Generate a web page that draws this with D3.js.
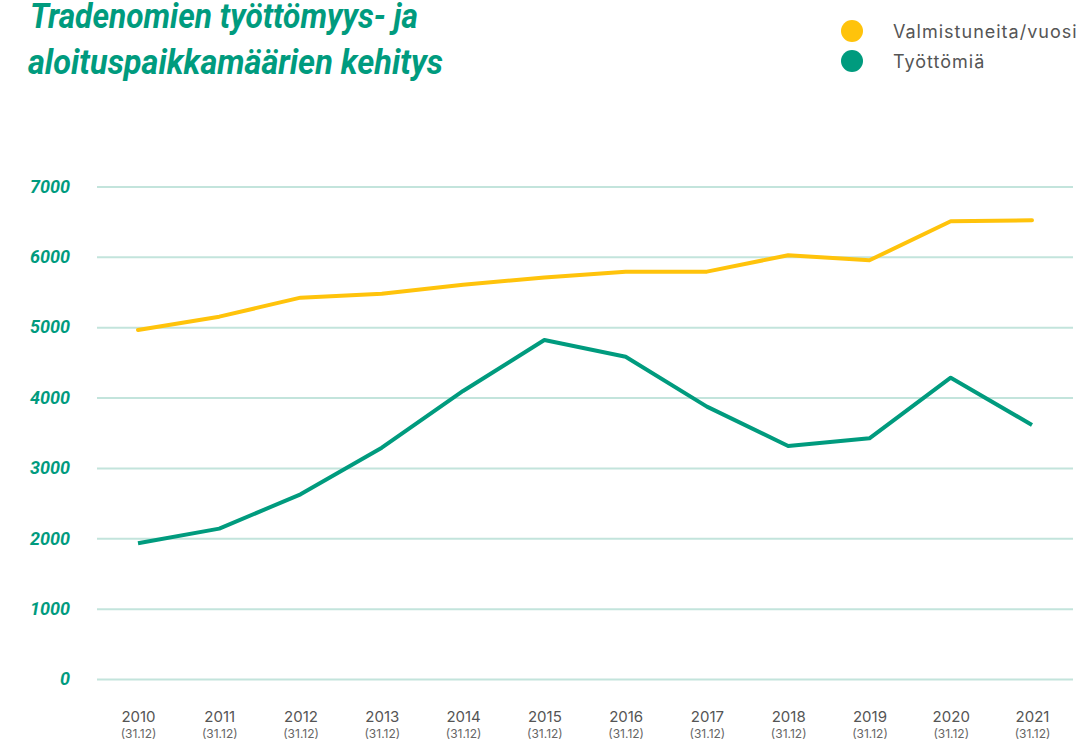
<!DOCTYPE html>
<html>
<head>
<meta charset="utf-8">
<script src="https://cdn.jsdelivr.net/npm/d3@7"></script>
<style>
  html, body { margin: 0; padding: 0; background: #fff; }
  svg { display: block; }
</style>
</head>
<body>
<script>
const years = ["2010","2011","2012","2013","2014","2015","2016","2017","2018","2019","2020","2021"];
const subLabel = "(31.12)";
const valmistuneita = [4960, 5150, 5420, 5477, 5605, 5705, 5790, 5790, 6023, 5951, 6506, 6520];
const tyottomia = [1929, 2137, 2625, 3288, 4094, 4819, 4581, 3871, 3312, 3421, 4283, 3610];
const yTicks = [0, 1000, 2000, 3000, 4000, 5000, 6000, 7000];
const seriesNames = ["Valmistuneita/vuosi", "Työttömiä"];
const titleLines = ["Tradenomien työttömyys- ja", "aloituspaikkamäärien kehitys"];

const W = 1081, H = 743;
const YELLOW = "#FFC30B", GREEN = "#009B7E", GRID = "#C3E4DC", TEXT = "#555555";

const svg = d3.select("body").append("svg").attr("width", W).attr("height", H);

const x = d3.scalePoint().domain(years).range([138, 1032]);
const y = d3.scaleLinear().domain([0, 7000]).range([679, 186.5]);

// Title
const title = svg.append("g");
title.append("text").attr("x", 30).attr("y", 28)
  .attr("textLength", 388).attr("lengthAdjust", "spacingAndGlyphs")
  .style("font-family", "Roboto").style("font-weight", 700).style("font-style", "italic")
  .style("font-size", "35px").attr("fill", GREEN).text(titleLines[0]);
title.append("text").attr("x", 28).attr("y", 74)
  .attr("textLength", 415).attr("lengthAdjust", "spacingAndGlyphs")
  .style("font-family", "Roboto").style("font-weight", 700).style("font-style", "italic")
  .style("font-size", "35px").attr("fill", GREEN).text(titleLines[1]);

// Legend
const legend = svg.append("g");
[YELLOW, GREEN].forEach((c, i) => {
  legend.append("circle").attr("cx", 852).attr("cy", 31 + i * 30).attr("r", 11).attr("fill", c);
  legend.append("text").attr("x", 893).attr("y", 38 + i * 30)
    .style("font-family", "Inter").style("font-size", "18px").style("letter-spacing", "1px")
    .attr("fill", TEXT)
    .text(seriesNames[i]);
});

// Y axis (gridlines + labels)
const yAxis = d3.axisLeft(y).tickValues(yTicks).tickSize(-(1073 - 97)).tickPadding(27).tickFormat(d3.format("d"));
const gy = svg.append("g").attr("transform", "translate(97,0)").call(yAxis);
gy.select(".domain").remove();
gy.selectAll(".tick line").attr("stroke", GRID).attr("stroke-width", 2);
gy.selectAll(".tick text")
  .attr("fill", GREEN)
  .style("font-family", "Roboto").style("font-weight", 700).style("font-style", "italic")
  .style("font-size", "18px");

// X axis labels
const xAxis = d3.axisBottom(x).tickSize(0).tickPadding(0);
const gx = svg.append("g").attr("transform", "translate(0,722)").call(xAxis);
gx.select(".domain").remove();
gx.selectAll(".tick text").remove();
gx.selectAll(".tick").each(function(d) {
  const t = d3.select(this);
  t.append("text").attr("y", 0).attr("text-anchor", "middle")
    .style("font-family", "Inter").style("font-size", "15px").attr("fill", TEXT).text(d);
  t.append("text").attr("y", 16).attr("text-anchor", "middle")
    .style("font-family", "Inter").style("font-size", "12px").attr("fill", "#666").text(subLabel);
});

// Lines
const line = d3.line().x((d, i) => x(years[i])).y(d => y(d));
svg.append("path").datum(valmistuneita).attr("d", line)
  .attr("fill", "none").attr("stroke", YELLOW).attr("stroke-width", 4).attr("stroke-linecap", "round").attr("stroke-linejoin", "round");
svg.append("path").datum(tyottomia).attr("d", line)
  .attr("fill", "none").attr("stroke", GREEN).attr("stroke-width", 4).attr("stroke-linejoin", "round");
</script>
</body>
</html>
